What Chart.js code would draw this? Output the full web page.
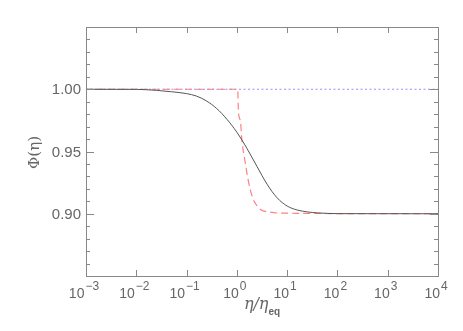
<!DOCTYPE html>
<html>
<head>
<meta charset="utf-8">
<script src="https://cdn.jsdelivr.net/npm/chart.js@4"></script>
<style>
  html, body { margin: 0; padding: 0; background: #fff; }
  #wrap { width: 463px; height: 331px; position: relative; }
</style>
</head>
<body>
<div id="wrap"><canvas id="phiChart"></canvas></div>
<script>
// values (x is eta / eta_eq, log axis)
const blackEta = [0.001, 0.01, 0.0251, 0.0501, 0.1, 0.158, 0.251, 0.398, 0.631, 1.0, 1.585, 2.512, 3.981, 6.31, 10, 15.85, 25.1, 39.8, 63.1, 100, 10000];
const blackPhi = [1.0, 0.9999, 0.9991, 0.998, 0.9965, 0.9945, 0.9905, 0.9845, 0.976, 0.9655, 0.9525, 0.938, 0.9238, 0.9128, 0.9062, 0.903, 0.9015, 0.9007, 0.9003, 0.9001, 0.9];

const redEta = [0.001, 1.04, 1.075, 1.18, 1.26, 1.47, 1.70, 2.05, 2.46, 2.95, 4.57, 7.4, 10000];
const redPhi = [1.0, 1.0, 0.982, 0.974, 0.959, 0.941, 0.926, 0.913, 0.907, 0.9035, 0.9013, 0.9005, 0.9];

const blueEta = [0.001, 10000];
const bluePhi = [1.0, 1.0];

// tick labels
const xTickExps = ['\u22123', '\u22122', '\u22121', '0', '1', '2', '3', '4'];
const yTickValues = [0.90, 0.95, 1.00];
const yTickLabels = ['0.90', '0.95', '1.00'];

const textColor = '#666';
const axisColor = '#888';

function pts(xs, ys) {
  return xs.map((x, i) => ({ x: x, y: ys[i] }));
}

// frame, inward ticks, tick labels and titles
const axesPlugin = {
  id: 'idlAxes',
  afterDraw(chart) {
    const ctx = chart.ctx;
    const a = chart.chartArea;
    const xs = chart.scales.x;
    const ys = chart.scales.y;
    ctx.save();
    ctx.strokeStyle = axisColor;
    ctx.lineWidth = 1;
    ctx.strokeRect(a.left + 0.5, a.top + 0.5, a.right - a.left, a.bottom - a.top);

    // x major ticks, top and bottom
    ctx.beginPath();
    xTickExps.forEach((e, i) => {
      const px = Math.round(xs.getPixelForValue(Math.pow(10, i - 3))) + 0.5;
      ctx.moveTo(px, a.bottom); ctx.lineTo(px, a.bottom - 6);
      ctx.moveTo(px, a.top); ctx.lineTo(px, a.top + 6);
    });
    // y ticks every 0.01, longer every 0.05
    for (let k = 85; k <= 105; k++) {
      const py = Math.round(ys.getPixelForValue(k / 100)) + 0.5;
      const len = (k % 5 === 0) ? 8 : 4;
      ctx.moveTo(a.left, py); ctx.lineTo(a.left + len, py);
      ctx.moveTo(a.right, py); ctx.lineTo(a.right - len, py);
    }
    ctx.stroke();

    ctx.fillStyle = textColor;
    // y tick labels
    ctx.font = '15px "Liberation Sans", Arial, sans-serif';
    ctx.textAlign = 'right';
    ctx.textBaseline = 'middle';
    yTickValues.forEach((v, i) => {
      ctx.fillText(yTickLabels[i], a.left - 5, ys.getPixelForValue(v) + 1);
    });

    // x tick labels 10^n
    ctx.textAlign = 'left';
    ctx.textBaseline = 'alphabetic';
    xTickExps.forEach((e, i) => {
      const px = xs.getPixelForValue(Math.pow(10, i - 3));
      ctx.font = '14px "Liberation Sans", Arial, sans-serif';
      const wb = ctx.measureText('10').width;
      ctx.font = '12px "Liberation Sans", Arial, sans-serif';
      const we = ctx.measureText(e).width;
      const x0 = px - (wb + we + 1) / 2 - 2;
      ctx.font = '14px "Liberation Sans", Arial, sans-serif';
      ctx.fillText('10', x0, 298);
      ctx.font = '12px "Liberation Sans", Arial, sans-serif';
      ctx.fillText(e, x0 + wb + 1, 290);
    });

    // x title eta / eta_eq
    ctx.font = 'italic 16px "DejaVu Serif", serif';
    const main = '\u03b7/\u03b7';
    const wm = ctx.measureText(main).width;
    ctx.font = 'bold 10px "Liberation Sans", Arial, sans-serif';
    const ws = ctx.measureText('eq').width;
    const cx = (a.left + a.right) / 2;
    const tx = cx - (wm + ws) / 2;
    ctx.font = 'italic 16px "DejaVu Serif", serif';
    ctx.fillText(main, tx, 309);
    ctx.font = 'bold 10px "Liberation Sans", Arial, sans-serif';
    ctx.fillText('eq', tx + wm, 315);

    // y title
    ctx.translate(35, (a.top + a.bottom) / 2 + 1);
    ctx.rotate(-Math.PI / 2);
    ctx.textAlign = 'center';
    ctx.textBaseline = 'middle';
    ctx.font = '15px "DejaVu Serif", serif';
    ctx.fillText('\u03a6(\u03b7)', 0, 0);
    ctx.restore();
  }
};

const config = {
  type: 'line',
  data: {
    datasets: [
      {
        label: 'black',
        data: pts(blackEta, blackPhi),
        borderColor: '#555',
        borderWidth: 1,
        pointRadius: 0,
        cubicInterpolationMode: 'monotone'
      },
      {
        label: 'red',
        data: pts(redEta, redPhi),
        borderColor: '#ff8080',
        borderWidth: 1.2,
        borderDash: [7, 4],
        pointRadius: 0,
        cubicInterpolationMode: 'monotone'
      },
      {
        label: 'blue',
        data: pts(blueEta, bluePhi),
        borderColor: '#9090ff',
        borderWidth: 1.2,
        borderDash: [2, 2.5],
        pointRadius: 0
      }
    ]
  },
  options: {
    responsive: true,
    maintainAspectRatio: false,
    animation: false,
    events: [],
    layout: { padding: { left: 86, top: 27, right: 25, bottom: 55 } },
    plugins: {
      legend: { display: false },
      tooltip: { enabled: false }
    },
    scales: {
      x: {
        type: 'logarithmic',
        display: false,
        min: 0.001,
        max: 10000
      },
      y: {
        type: 'linear',
        display: false,
        min: 0.85,
        max: 1.05
      }
    }
  },
  plugins: [axesPlugin]
};

//render
var phiChart = new Chart(document.getElementById('phiChart'), config);
</script>
</body>
</html>
